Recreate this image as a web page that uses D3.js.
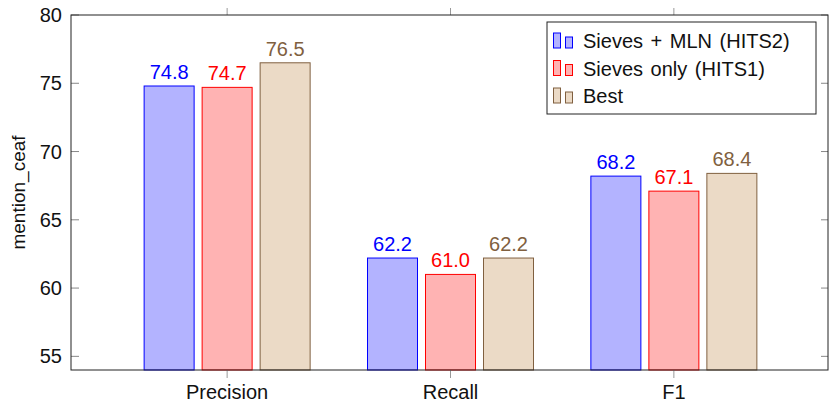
<!DOCTYPE html>
<html>
<head>
<meta charset="utf-8">
<script src="https://cdn.jsdelivr.net/npm/d3@7"></script>
<style>
  body { margin: 0; background: #fff; }
  text { font-family: "Liberation Sans", "DejaVu Sans", sans-serif; }
</style>
</head>
<body>
<div id="chart"></div>
<script>
const categories = ['Precision', 'Recall', 'F1']
const seriesNames = ['Sieves + MLN (HITS2)', 'Sieves only (HITS1)', 'Best']
const hits2 = [74.8, 62.2, 68.2]
const hits1 = [74.7, 61.0, 67.1]
const best = [76.5, 62.2, 68.4]
const yTicks = [55, 60, 65, 70, 75, 80]

const strokes = ['#0000ff', '#ff0000', '#806040']
const fills = ['#b3b3ff', '#ffb3b3', '#ebdac6']

const w = 829, h = 404
const mLeft = 71, mRight = 828, mTop = 15, mBottom = 370
const fontSize = 20

const series = [hits2, hits1, best]

const svg = d3.select('#chart')
  .append('svg')
  .attr('width', w)
  .attr('height', h)

const x = d3.scalePoint()
  .domain(categories)
  .range([mLeft + 2, mRight])
  .padding(0.69)

const y = d3.scaleLinear()
  .domain([54, 80])
  .range([mBottom, mTop])

const barWidth = 50
const pitch = 58

// bars
series.forEach((values, s) => {
  const g = svg.append('g')
  g.selectAll('rect')
    .data(values)
    .enter()
    .append('rect')
    .attr('x', (d, i) => x(categories[i]) + (s - 1) * pitch - barWidth / 2)
    .attr('y', d => y(d))
    .attr('width', barWidth)
    .attr('height', d => y(54) - y(d))
    .attr('fill', fills[s])
    .attr('stroke', strokes[s])
    .attr('stroke-width', 1)

  g.selectAll('text')
    .data(values)
    .enter()
    .append('text')
    .attr('x', (d, i) => x(categories[i]) + (s - 1) * pitch)
    .attr('y', d => y(d) - 7)
    .attr('text-anchor', 'middle')
    .attr('font-size', fontSize)
    .attr('fill', strokes[s])
    .text(d => d.toFixed(1))
})

// y ticks (left and right, inside)
svg.append('g')
  .selectAll('line')
  .data(yTicks)
  .enter()
  .append('line')
  .attr('x1', mLeft).attr('x2', mLeft + 8)
  .attr('y1', d => y(d)).attr('y2', d => y(d))
  .attr('stroke', '#888')
svg.append('g')
  .selectAll('line')
  .data(yTicks)
  .enter()
  .append('line')
  .attr('x1', mRight - 7).attr('x2', mRight)
  .attr('y1', d => y(d)).attr('y2', d => y(d))
  .attr('stroke', '#888')

svg.append('g')
  .selectAll('text')
  .data(yTicks)
  .enter()
  .append('text')
  .attr('x', 62)
  .attr('y', d => y(d))
  .attr('dy', '0.35em')
  .attr('text-anchor', 'end')
  .attr('font-size', fontSize)
  .attr('fill', '#111')
  .text(d => d)

// x ticks (bottom and top, outside)
svg.append('g')
  .selectAll('line')
  .data(categories)
  .enter()
  .append('line')
  .attr('x1', d => x(d)).attr('x2', d => x(d))
  .attr('y1', mBottom).attr('y2', mBottom + 8)
  .attr('stroke', '#999')
svg.append('g')
  .selectAll('line')
  .data(categories)
  .enter()
  .append('line')
  .attr('x1', d => x(d)).attr('x2', d => x(d))
  .attr('y1', mTop).attr('y2', mTop - 7)
  .attr('stroke', '#999')

svg.append('g')
  .selectAll('text')
  .data(categories)
  .enter()
  .append('text')
  .attr('x', d => x(d))
  .attr('y', 399)
  .attr('text-anchor', 'middle')
  .attr('font-size', fontSize)
  .attr('fill', '#111')
  .text(d => d)

// frame
svg.append('rect')
  .attr('x', mLeft).attr('y', mTop)
  .attr('width', mRight - mLeft).attr('height', mBottom - mTop)
  .attr('fill', 'none')
  .attr('stroke', '#222')
  .attr('stroke-width', 1)

// y label
svg.append('text')
  .attr('transform', `translate(25, ${(mTop + mBottom) / 2}) rotate(-90)`)
  .attr('text-anchor', 'middle')
  .attr('font-size', 19)
  .attr('fill', '#111')
  .text('mention_ceaf')

// legend
const legend = svg.append('g').attr('transform', 'translate(547, 22)')
legend.append('rect')
  .attr('width', 269).attr('height', 92)
  .attr('fill', '#fff')
  .attr('stroke', '#222')

seriesNames.forEach((name, s) => {
  const cy = 19 + s * 27.5
  const row = legend.append('g').attr('transform', `translate(0, ${cy})`)
  row.append('rect')
    .attr('x', 6.5).attr('y', -8).attr('width', 7).attr('height', 15)
    .attr('fill', fills[s]).attr('stroke', strokes[s])
  row.append('rect')
    .attr('x', 18.5).attr('y', -4).attr('width', 7).attr('height', 11)
    .attr('fill', fills[s]).attr('stroke', strokes[s])
  row.append('text')
    .attr('x', 36).attr('y', 0)
    .attr('dy', '0.35em')
    .attr('font-size', fontSize)
    .attr('word-spacing', 2)
    .attr('fill', '#111')
    .text(name)
})
</script>
</body>
</html>
